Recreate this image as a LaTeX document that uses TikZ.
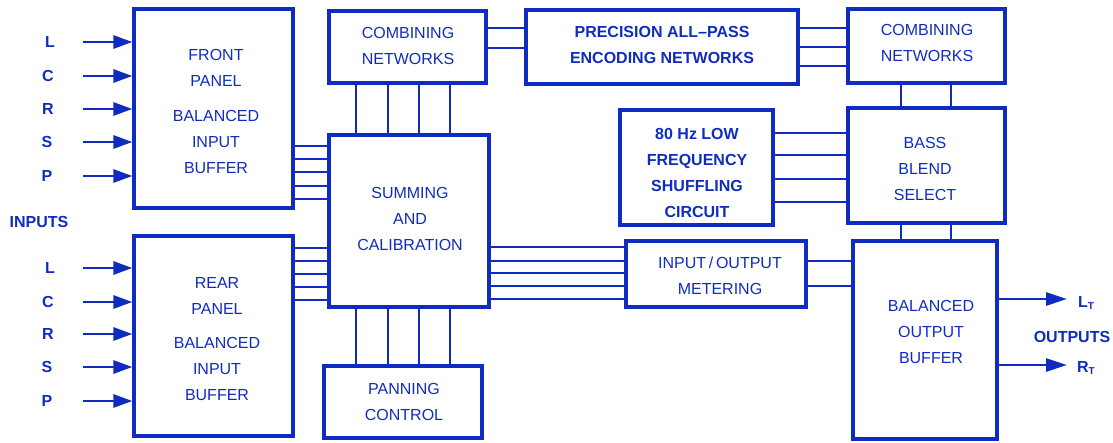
\documentclass[tikz,border=0pt]{standalone}
\usepackage{fontspec}
\setmainfont{Liberation Sans}
\usetikzlibrary{arrows.meta}
\definecolor{ink}{RGB}{16,44,192}
\begin{document}
\begin{tikzpicture}[x=1pt,y=-1pt,
  blk/.style={draw=ink, line width=3.2pt, rectangle, inner sep=0pt},
  wire/.style={draw=ink, line width=2.8pt},
  sigarrow/.style={wire, -{Triangle[length=19pt,width=13pt]}},
  txt/.style={text=ink, align=center, inner sep=0pt, font=\fontsize{16}{26}\selectfont},
  btxt/.style={text=ink, align=center, inner sep=0pt, font=\bfseries\fontsize{16}{26}\selectfont},
  lbl/.style={text=ink, inner sep=0pt, font=\bfseries\fontsize{16}{18}\selectfont},
]
\useasboundingbox (0,0) rectangle (1113,442);

% ---- blocks ----
\node[blk, minimum width=159pt, minimum height=199pt] (front) at (213.5,108.5) {};
\node[blk, minimum width=159pt, minimum height=200pt] (rear)  at (213.5,336) {};
\node[blk, minimum width=157pt, minimum height=72pt]  (comb1) at (407.5,47) {};
\node[blk, minimum width=160pt, minimum height=172pt] (sum)   at (409,221) {};
\node[blk, minimum width=158pt, minimum height=72pt]  (pan)   at (403,402) {};
\node[blk, minimum width=272pt, minimum height=74pt]  (prec)  at (662,47) {};
\node[blk, minimum width=153pt, minimum height=115pt] (lowf)  at (696.5,167.5) {};
\node[blk, minimum width=180pt, minimum height=66pt]  (meter) at (716,274) {};
\node[blk, minimum width=157pt, minimum height=74pt]  (comb2) at (926.5,46) {};
\node[blk, minimum width=157pt, minimum height=115pt] (bass)  at (926.5,165.5) {};
\node[blk, minimum width=144pt, minimum height=198pt] (outbuf) at (925,340) {};

% ---- block captions ----
\node[txt] (front-t) at (216,111) {FRONT\\PANEL\\[9pt]BALANCED\\INPUT\\BUFFER};
\node[txt] (rear-t)  at (217,339.5) {REAR\\PANEL\\[8pt]BALANCED\\INPUT\\BUFFER};
\node[txt] (comb1-t) at (408,45.5) {COMBINING\\NETWORKS};
\node[txt] (sum-t)   at (410,219) {SUMMING\\AND\\CALIBRATION};
\node[txt] (pan-t)   at (404,401.5) {PANNING\\CONTROL};
\node[btxt] (prec-t) at (662,45) {PRECISION ALL\textendash PASS\\ENCODING NETWORKS};
\node[btxt] (lowf-t) at (697,173) {80 Hz LOW\\FREQUENCY\\SHUFFLING\\CIRCUIT};
\node[txt] (meter-t) at (720,275.5) {INPUT\,/\,OUTPUT\\METERING};
\node[txt] (comb2-t) at (927,43) {COMBINING\\NETWORKS};
\node[txt] (bass-t)  at (925,169) {BASS\\BLEND\\SELECT};
\node[txt] (outbuf-t) at (931,332) {BALANCED\\OUTPUT\\BUFFER};

% ---- inputs ----
\foreach \n/\t/\lx/\y in {fL/L/50/42, fC/C/48/76, fR/R/48/109, fS/S/47/142, fP/P/47/176}{
  \node[lbl] (lab-\n) at (\lx,\y) {\t};
  \coordinate (src-\n) at (83,\y);
  \draw[sigarrow] (src-\n) -- (front.west |- src-\n);
}
\foreach \n/\t/\lx/\y in {rL/L/50/268, rC/C/48/302, rR/R/48/334, rS/S/47/367, rP/P/47/401}{
  \node[lbl] (lab-\n) at (\lx,\y) {\t};
  \coordinate (src-\n) at (83,\y);
  \draw[sigarrow] (src-\n) -- (rear.west |- src-\n);
}
\node[lbl] (inputs) at (39,222) {INPUTS};

% ---- buses between blocks ----
\foreach \y in {146,159,172,186,199}
  \draw[wire] (front.east |- 0,\y) -- (sum.west |- 0,\y);
\foreach \y in {248,261,274,287,300}
  \draw[wire] (rear.east |- 0,\y) -- (sum.west |- 0,\y);
\foreach \x in {356,388,419,450}
  \draw[wire] (comb1.south -| \x,0) -- (sum.north -| \x,0);
\foreach \x in {356,388,419,450}
  \draw[wire] (sum.south -| \x,0) -- (pan.north -| \x,0);
\foreach \y in {28,48}
  \draw[wire] (comb1.east |- 0,\y) -- (prec.west |- 0,\y);
\foreach \y in {28,47,66}
  \draw[wire] (prec.east |- 0,\y) -- (comb2.west |- 0,\y);
\foreach \x in {901,951}
  \draw[wire] (comb2.south -| \x,0) -- (bass.north -| \x,0);
\foreach \y in {133,155,179,202}
  \draw[wire] (lowf.east |- 0,\y) -- (bass.west |- 0,\y);
\foreach \x in {901,951}
  \draw[wire] (bass.south -| \x,0) -- (outbuf.north -| \x,0);
\foreach \y in {247,261,273,286,299}
  \draw[wire] (sum.east |- 0,\y) -- (meter.west |- 0,\y);
\foreach \y in {261,286}
  \draw[wire] (meter.east |- 0,\y) -- (outbuf.west |- 0,\y);

% ---- outputs ----
\coordinate (dstL) at (1067,299);
\coordinate (dstR) at (1067,365);
\draw[wire, -{Triangle[length=21pt,width=13pt]}] (outbuf.east |- dstL) -- (dstL);
\draw[wire, -{Triangle[length=21pt,width=13pt]}] (outbuf.east |- dstR) -- (dstR);
\node[lbl] (lab-LT) at (1086,303) {L\raisebox{-2.5pt}{\fontsize{10}{10}\selectfont T}};
\node[lbl] (lab-RT) at (1086,368) {R\raisebox{-2.5pt}{\fontsize{10}{10}\selectfont T}};
\node[lbl] (outputs) at (1072,337) {OUTPUTS};
\end{tikzpicture}
\end{document}
